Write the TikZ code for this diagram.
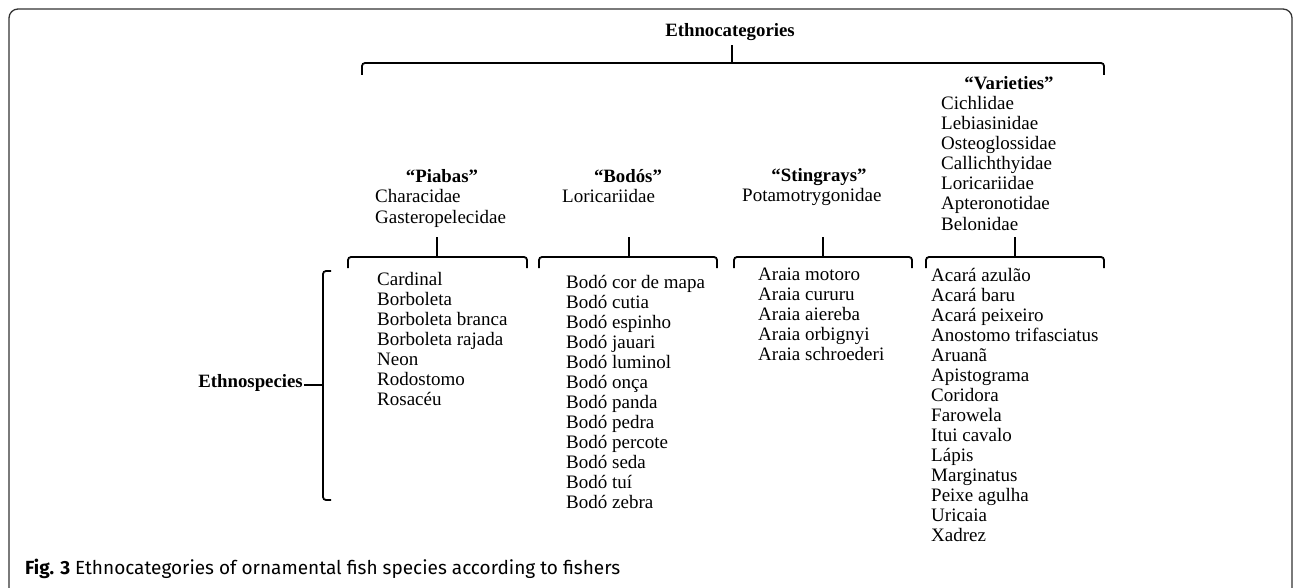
\documentclass[tikz,border=0pt]{standalone}
\usepackage{fontspec}
\setmainfont{Liberation Serif}
\newfontfamily\capfont{Fira Sans}
\begin{document}
\begin{tikzpicture}[x=1pt, y=-1pt,
    item/.style={anchor=base west, inner sep=0pt, font=\fontsize{19}{20}\selectfont},
    head/.style={anchor=base, inner sep=0pt, font=\fontsize{18.8}{20}\selectfont\bfseries},
    brace/.style={line width=1.8pt, rounded corners=3pt}]
    %
    \useasboundingbox (0,0) rectangle (1293,588);
    \draw[line width=1.3pt, black!80, rounded corners=9pt] (9,9) rectangle (1292,600);

    % top level
    \node[head] (cats) at (730,37) {Ethnocategories};
    \coordinate (topL) at (362,75);
    \coordinate (topR) at (1104,75);
    \coordinate (topC) at (732,63);
    \draw[brace] (topL) -- (362,63) -- (1104,63) -- (topR);
    \draw[brace] (topC) -- (732,45);

    % categories
    \node[head] (piabas) at (442,183) {“Piabas”};
    \node[head] (bodos) at (628,183) {“Bodós”};
    \node[head] (stingrays) at (819,182) {“Stingrays”};
    \node[head] (varieties) at (1009,90) {“Varieties”};

    \foreach \fam [count=\i] in {Characidae, Gasteropelecidae}
        \node[item] (fp\i) at (375,{203+20*(\i-1)}) {\fam};
    \node[item] (fb1) at (562,203) {Loricariidae};
    \node[item] (fs1) at (742,202) {Potamotrygonidae};
    \foreach \fam [count=\i] in {Cichlidae, Lebiasinidae, Osteoglossidae,
        Callichthyidae, Loricariidae, Apteronotidae, Belonidae}
        \node[item] (fv\i) at (941,{110+20*(\i-1)}) {\fam};

    % sub braces
    \foreach \nm/\l/\c/\r in {p/348/437/527, b/539/629/717, s/734/823/912, v/926/1015/1104} {
        \coordinate (\nm L) at (\l,268);
        \coordinate (\nm C) at (\c,257);
        \coordinate (\nm R) at (\r,268);
        \draw[brace] (\nm L) -- (\l,257) -- (\r,257) -- (\nm R);
        \draw[brace] (\nm C) -- (\c,237);
    }

    % species
    \foreach \sp [count=\i] in {Cardinal, Borboleta, Borboleta branca,
        Borboleta rajada, Neon, Rodostomo, Rosacéu}
        \node[item] (sp\i) at (377,{285+20*(\i-1)}) {\sp};
    \foreach \sp [count=\i] in {Bodó cor de mapa, Bodó cutia, Bodó espinho,
        Bodó jauari, Bodó luminol, Bodó onça, Bodó panda, Bodó pedra,
        Bodó percote, Bodó seda, Bodó tuí, Bodó zebra}
        \node[item] (sb\i) at (566,{288+20*(\i-1)}) {\sp};
    \foreach \sp [count=\i] in {Araia motoro, Araia cururu, Araia aiereba,
        Araia orbignyi, Araia schroederi}
        \node[item] (ss\i) at (758,{280+20*(\i-1)}) {\sp};
    \foreach \sp [count=\i] in {Acará azulão, Acará baru, Acará peixeiro,
        Anostomo trifasciatus, Aruanã, Apistograma, Coridora, Farowela,
        Itui cavalo, Lápis, Marginatus, Peixe agulha, Uricaia, Xadrez}
        \node[item] (sv\i) at (931,{281+20*(\i-1)}) {\sp};

    % ethnospecies bracket
    \node[head, anchor=base east] (species) at (303,387) {Ethnospecies};
    \coordinate (eT) at (331,271);
    \coordinate (eB) at (331,500);
    \draw[brace] (eT) -- (323,271) -- (323,500) -- (eB);
    \draw[brace] (species.base east) ++(1,-2) -- (323,385);

    % caption
    \node[anchor=base west, inner sep=0pt, font=\capfont\fontsize{19}{22}\selectfont] (caption) at (25,574)
        {\textbf{Fig. 3} Ethnocategories of ornamental fish species according to fishers};
\end{tikzpicture}
\end{document}
